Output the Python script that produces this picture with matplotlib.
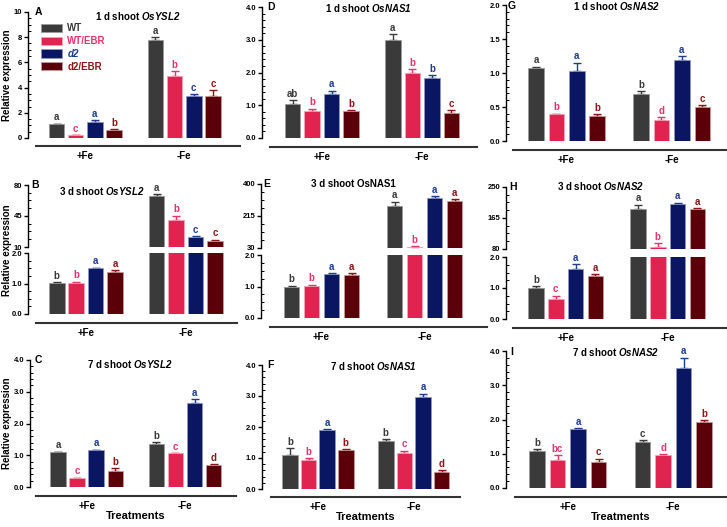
import numpy as np
import matplotlib.pyplot as plt
from matplotlib.lines import Line2D
from matplotlib.patches import Patch
from matplotlib.ticker import AutoMinorLocator, FormatStrFormatter
from matplotlib.transforms import blended_transform_factory

plt.rcParams['font.family'] = ['Liberation Sans', 'DejaVu Sans']
plt.rcParams['font.weight'] = 'bold'
plt.rcParams['mathtext.fontset'] = 'custom'
plt.rcParams['mathtext.rm'] = 'Liberation Sans:bold'
plt.rcParams['mathtext.bfit'] = 'Liberation Sans:italic:bold'

# ---- data: order WT, WT/EBR, d2, d2/EBR under +Fe, then the same under -Fe
genotypes = ["WT", "WT/EBR", "d2", "d2/EBR"]
treatments = ["+Fe", "-Fe"]

A_mean = [1.1, 0.2, 1.3, 0.6, 7.8, 4.9, 3.35, 3.3]
A_err = [0.05, 0.03, 0.12, 0.1, 0.2, 0.4, 0.15, 0.5]
A_let = ["a", "c", "a", "b", "a", "b", "c", "c"]

D_mean = [1.05, 0.82, 1.35, 0.82, 3.0, 1.97, 1.83, 0.77]
D_err = [0.1, 0.08, 0.1, 0.02, 0.17, 0.13, 0.08, 0.08]
D_let = ["ab", "b", "a", "b", "a", "b", "b", "c"]

G_mean = [1.07, 0.39, 1.03, 0.37, 0.69, 0.31, 1.19, 0.5]
G_err = [0.02, 0.01, 0.12, 0.02, 0.04, 0.04, 0.06, 0.03]
G_let = ["a", "b", "a", "b", "b", "d", "a", "c"]

B_mean = [1.03, 1.02, 1.5, 1.38, 67.6, 40.7, 21.2, 17.1]
B_err = [0.02, 0.04, 0.02, 0.05, 1.9, 4.5, 1.2, 1.1]
B_let = ["b", "b", "a", "a", "a", "b", "c", "c"]

E_mean = [0.97, 1.01, 1.41, 1.36, 272, 36, 317, 301]
E_err = [0.06, 0.05, 0.02, 0.06, 25, 4, 13, 10]
E_let = ["b", "b", "a", "a", "a", "b", "a", "a"]

H_mean = [1.0, 0.65, 1.62, 1.4, 191, 86, 203, 190]
H_err = [0.05, 0.1, 0.15, 0.04, 11, 10, 4, 2]
H_let = ["b", "c", "a", "a", "a", "b", "a", "a"]

C_mean = [1.09, 0.28, 1.16, 0.51, 1.37, 1.06, 2.66, 0.70]
C_err = [0.02, 0.01, 0.02, 0.09, 0.04, 0.01, 0.1, 0.02]
C_let = ["a", "c", "a", "b", "b", "c", "a", "d"]

F_mean = [1.10, 0.92, 1.90, 1.26, 1.54, 1.17, 2.96, 0.54]
F_err = [0.21, 0.07, 0.02, 0.02, 0.06, 0.06, 0.12, 0.07]
F_let = ["b", "b", "a", "b", "b", "c", "a", "d"]

I_mean = [1.09, 0.82, 1.71, 0.76, 1.35, 0.97, 3.51, 1.94]
I_err = [0.04, 0.14, 0.04, 0.1, 0.04, 0.01, 0.3, 0.04]
I_let = ["b", "bc", "a", "c", "c", "d", "a", "b"]

bar_colors = ['#3a3a3a', '#e1234f', '#0b1662', '#5b0008']
txt_colors = ['#3a3a3a', '#e8336a', '#1e3b92', '#8c1616']
edge_colors = ['#9a9a9a', '#f4a6b8', '#8e98c4', '#c49a9a']

W, H = 727, 527
fig = plt.figure(figsize=(W / 100, H / 100), dpi=100)


def rect(x0, y0, x1, y1):
    return [x0 / W, 1 - y1 / H, (x1 - x0) / W, (y1 - y0) / H]


xs = np.array([0, 1, 2, 3, 5.15, 6.15, 7.15, 8.15])


def style_axis(ax, ticks, fmt, minor):
    for s in ['top', 'right', 'bottom']:
        ax.spines[s].set_visible(False)
    ax.spines['left'].set_linewidth(1.0)
    ax.xaxis.set_visible(False)
    ax.set_yticks(ticks)
    ax.yaxis.set_major_formatter(FormatStrFormatter(fmt))
    ax.yaxis.set_minor_locator(AutoMinorLocator(minor))
    ax.tick_params(axis='y', which='major', length=3, width=1, labelsize=5.5, pad=1)
    ax.tick_params(axis='y', which='minor', length=2, width=0.7, direction='in')
    for lab in ax.get_yticklabels():
        lab.set_fontweight('bold')
    ax.patch.set_visible(False)


def draw_bars(ax, means, errs, letters, width):
    for i in range(8):
        k = i % 4
        ax.bar(xs[i], means[i], width, color=bar_colors[k], edgecolor=edge_colors[k],
               linewidth=0.6, zorder=2)
        ax.errorbar(xs[i], means[i], yerr=[[0], [errs[i]]], fmt='none', ecolor=txt_colors[k],
                    elinewidth=1, capsize=3, capthick=1, zorder=1)
        ax.annotate(letters[i], (xs[i], means[i] + errs[i]), xytext=(0, 1),
                    textcoords='offset points', ha='center', va='bottom',
                    color=txt_colors[k], fontsize=7, fontweight='bold')


def group_axis(ax, x0, x1, ly, bottom_label):
    fig.add_artist(Line2D([x0 / W, x1 / W], [1 - ly / H] * 2, color='#333333', lw=1.5))
    tr = blended_transform_factory(ax.transData, fig.transFigure)
    for j, t in enumerate(treatments):
        ax.text(xs[j * 4:(j + 1) * 4].mean(), 1 - (ly + 10) / H, t, transform=tr,
                ha='center', va='center', fontsize=7, fontweight='bold')
    if bottom_label:
        ax.text(xs.mean(), 1 - (ly + 20) / H, "Treatments", transform=tr,
                ha='center', va='center', fontsize=8, fontweight='bold')


def simple_panel(spine, c0, sp, x1, ytop, y0, ly, lx0, ylim, ticks, fmt, minor,
                 means, errs, letters, bottom_label=False):
    ax = fig.add_axes(rect(spine, ytop, x1, y0))
    ax.set_xlim(-(c0 - spine) / sp, (x1 - c0) / sp)
    ax.set_ylim(*ylim)
    draw_bars(ax, means, errs, letters, 15.5 / sp)
    style_axis(ax, ticks, fmt, minor)
    group_axis(ax, lx0, x1, ly, bottom_label)
    return ax


def broken_panel(spine, c0, sp, x1, utop, ubot, ltop, y0, ly, lx0, ulim, uticks,
                 means, errs, letters):
    xl = (-(c0 - spine) / sp, (x1 - c0) / sp)
    axu = fig.add_axes(rect(spine, utop, x1, ubot))
    axl = fig.add_axes(rect(spine, ltop, x1, y0))
    for ax, lim, ticks, fmt in [(axu, ulim, uticks, '%d'), (axl, (0, 2), [0, 1, 2], '%.1f')]:
        ax.set_xlim(*xl)
        ax.set_ylim(*lim)
        draw_bars(ax, means, errs, letters, 15.5 / sp)
        style_axis(ax, ticks, fmt, 4)
    group_axis(axl, lx0, x1, ly, False)
    return axu, axl


def title(xc, y, text):
    fig.text(xc / W, 1 - y / H, text, ha='center', va='center', fontsize=7, fontweight='bold')


def letter(x, y, t):
    fig.text(x / W, 1 - y / H, t, ha='center', va='center', fontsize=7.5, fontweight='bold')


# row 1
axA = simple_panel(28, 56.5, 19.2, 240, 12, 138, 146, 36, (0, 10), [0, 2, 4, 6, 8, 10], '%d', 4,
                   A_mean, A_err, A_let)
simple_panel(262, 292.5, 19.5, 477, 7, 138, 147, 270, (0, 4), [0, 1, 2, 3, 4], '%.1f', 5,
             D_mean, D_err, D_let)
simple_panel(506, 536, 20.4, 727, 5, 141, 150, 513, (0, 2), [0, 0.5, 1, 1.5, 2], '%.1f', 5,
             G_mean, G_err, G_let)

# row 2 (broken axes)
broken_panel(28, 56.8, 19.4, 237, 185, 247, 253, 314, 323, 36, (10, 80), [10, 45, 80],
             B_mean, B_err, B_let)
broken_panel(261, 291.5, 20, 487, 184, 248, 255, 318, 327, 270, (30, 400), [30, 215, 400],
             E_mean, E_err, E_let)
broken_panel(506, 536, 19.8, 727, 187, 249, 257, 319, 328, 513, (80, 250), [80, 165, 250],
             H_mean, H_err, H_let)

# row 3
simple_panel(30, 58, 19.1, 236, 360, 487, 496, 36, (0, 4), [0, 1, 2, 3, 4], '%.1f', 5,
             C_mean, C_err, C_let, True)
simple_panel(262, 290, 18.6, 460, 365, 489, 497, 271, (0, 4), [0, 1, 2, 3, 4], '%.1f', 5,
             F_mean, F_err, F_let, True)
simple_panel(506, 537, 20.5, 727, 351, 488, 497, 515, (0, 4), [0, 1, 2, 3, 4], '%.1f', 5,
             I_mean, I_err, I_let, True)

# titles
title(138, 16, r"1 d shoot $\mathbfit{OsYSL2}$")
title(368, 8, r"1 d shoot $\mathbfit{OsNAS1}$")
title(616, 6, r"1 d shoot $\mathbfit{OsNAS2}$")
title(102, 191, r"3 d shoot $\mathbfit{OsYSL2}$")
title(353, 184, "3 d shoot OsNAS1")
title(600, 186, r"3 d shoot $\mathbfit{OsNAS2}$")
title(130, 364, r"7 d shoot $\mathbfit{OsYSL2}$")
title(373, 366, r"7 d shoot $\mathbfit{OsNAS1}$")
title(615, 352, r"7 d shoot $\mathbfit{OsNAS2}$")

for x, y, t in [(38, 12, "A"), (271, 7, "D"), (512, 6, "G"),
                (35, 185, "B"), (267, 184, "E"), (513, 187, "H"),
                (38, 360, "C"), (270, 365, "F"), (512, 352, "I")]:
    letter(x, y, t)

for yc in [75, 250, 423]:
    fig.text(7 / W, 1 - yc / H, "Relative expression", rotation=90, ha='center', va='center',
             fontsize=7, fontweight='bold')

# legend
handles = [Patch(facecolor=bar_colors[k], edgecolor=edge_colors[k], linewidth=0.6) for k in range(4)]
leg = axA.legend(handles, genotypes, loc='upper left', bbox_to_anchor=(41 / W, 1 - 23 / H),
                 bbox_transform=fig.transFigure, frameon=False, fontsize=7,
                 handlelength=2.2, handleheight=0.9, labelspacing=0.3, handletextpad=0.5,
                 borderaxespad=0, borderpad=0)
for k, t in enumerate(leg.get_texts()):
    t.set_color(txt_colors[k])
    t.set_fontweight('bold')
    if genotypes[k] == "d2":
        t.set_fontstyle('italic')

fig.savefig("out.png", dpi=100)
